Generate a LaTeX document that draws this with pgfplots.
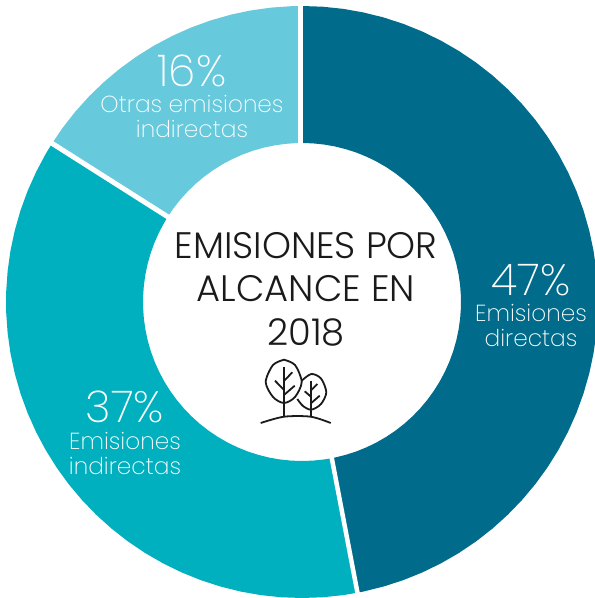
\documentclass[border=0pt]{standalone}
\usepackage{pgfplots}
\pgfplotsset{compat=1.18}
\usepackage{fontspec}
\setmainfont[UprightFont=* Light]{Poppins}
\newfontfamily\thinfont[UprightFont=* ExtraLight]{Poppins}
\definecolor{dark}{HTML}{006B8A}
\definecolor{mid}{HTML}{00B0BF}
\definecolor{light}{HTML}{66C9DC}
\definecolor{ink}{HTML}{1A1A1A}
\begin{document}
\begin{tikzpicture}
\begin{axis}[hide axis, scale only axis, width=595bp, height=598bp,
  xmin=-302, xmax=293, ymin=-296, ymax=302, clip=true,
  every node/.append style={align=center, inner sep=0pt}]
% 47 % : 90 to -79.2 degrees
\addplot[draw=none, fill=dark, data cs=polar] coordinates {
(90,296)(86,296)(82,296)(78,296)(74,296)(70,296)(66,296)(62,296)(58,296)(54,296)(50,296)(46,296)(42,296)(38,296)(34,296)(30,296)(26,296)(22,296)(18,296)(14,296)(10,296)(6,296)(2,296)(-2,296)(-6,296)(-10,296)(-14,296)(-18,296)(-22,296)(-26,296)(-30,296)(-34,296)(-38,296)(-42,296)(-46,296)(-50,296)(-54,296)(-58,296)(-62,296)(-66,296)(-70,296)(-74,296)(-78,296)(-79.2,296)
(-79.2,159)(-78,159)(-74,159)(-70,159)(-66,159)(-62,159)(-58,159)(-54,159)(-50,159)(-46,159)(-42,159)(-38,159)(-34,159)(-30,159)(-26,159)(-22,159)(-18,159)(-14,159)(-10,159)(-6,159)(-2,159)(2,159)(6,159)(10,159)(14,159)(18,159)(22,159)(26,159)(30,159)(34,159)(38,159)(42,159)(46,159)(50,159)(54,159)(58,159)(62,159)(66,159)(70,159)(74,159)(78,159)(82,159)(86,159)(90,159)
};
% 37 % : -79.2 to -212.4 degrees
\addplot[draw=none, fill=mid, data cs=polar] coordinates {
(-79.2,296)(-82,296)(-86,296)(-90,296)(-94,296)(-98,296)(-102,296)(-106,296)(-110,296)(-114,296)(-118,296)(-122,296)(-126,296)(-130,296)(-134,296)(-138,296)(-142,296)(-146,296)(-150,296)(-154,296)(-158,296)(-162,296)(-166,296)(-170,296)(-174,296)(-178,296)(-182,296)(-186,296)(-190,296)(-194,296)(-198,296)(-202,296)(-206,296)(-210,296)(-212.4,296)
(-212.4,159)(-210,159)(-206,159)(-202,159)(-198,159)(-194,159)(-190,159)(-186,159)(-182,159)(-178,159)(-174,159)(-170,159)(-166,159)(-162,159)(-158,159)(-154,159)(-150,159)(-146,159)(-142,159)(-138,159)(-134,159)(-130,159)(-126,159)(-122,159)(-118,159)(-114,159)(-110,159)(-106,159)(-102,159)(-98,159)(-94,159)(-90,159)(-86,159)(-82,159)(-79.2,159)
};
% 16 % : 147.6 to 90 degrees
\addplot[draw=none, fill=light, data cs=polar] coordinates {
(147.6,296)(144,296)(140,296)(136,296)(132,296)(128,296)(124,296)(120,296)(116,296)(112,296)(108,296)(104,296)(100,296)(96,296)(92,296)(90,296)
(90,159)(92,159)(96,159)(100,159)(104,159)(108,159)(112,159)(116,159)(120,159)(124,159)(128,159)(132,159)(136,159)(140,159)(144,159)(147.6,159)
};
% separators
\addplot[white, line width=5bp] coordinates {(-1.2,150)(-1.2,305)};
\addplot[white, line width=4.5bp, data cs=polar] coordinates {(-79.2,150)(-79.2,305)};
\addplot[white, line width=5bp, data cs=polar] coordinates {(147.6,150)(147.6,305)};
% tree icon
\begin{scope}[xshift=-1bp, yshift=1bp]
\addplot[ink, line width=1.8bp, smooth] coordinates {(-16,-59.7)(-5,-65)(1.7,-82)(-5,-97)(-16,-103)(-27,-97)(-34.3,-82)(-27,-65)(-16,-59.7)};
\addplot[ink, line width=1.8bp, smooth] coordinates {(1.7,-80.7)(11.3,-74)(21,-78.5)(26.3,-92.3)(21,-104)(11.3,-109.7)(3,-106)(-2.7,-99)};
\addplot[ink, line width=1.8bp] coordinates {(-16,-67)(-16,-117)};
\addplot[ink, line width=1.8bp] coordinates {(11.3,-80.7)(11.3,-117)};
\addplot[ink, line width=1.8bp] coordinates {(-25,-80.7)(-16,-90)};
\addplot[ink, line width=1.8bp] coordinates {(-7.7,-72.3)(-16,-81)};
\addplot[ink, line width=1.8bp] coordinates {(-5.3,-85.7)(-16,-95)};
\addplot[ink, line width=1.8bp] coordinates {(4.7,-91.3)(11.3,-97)};
\addplot[ink, line width=1.8bp] coordinates {(17.3,-84)(11.3,-90)};
\addplot[ink, line width=1.8bp] coordinates {(19.7,-95.7)(11.3,-103)};
\addplot[ink, line width=1.8bp, smooth] coordinates {(-39.3,-123)(-16,-116.7)(10.7,-116.7)(30.7,-123)};
\end{scope}
% texts (offsets from the ring centre)
\node[text=white, font=\thinfont\fontsize{44}{44}\selectfont] at (axis cs:229,22) {47\%};
\node[text=white, font=\thinfont\fontsize{23.3}{25}\selectfont] at (axis cs:229,-11) {Emisiones};
\node[text=white, font=\thinfont\fontsize{23.3}{25}\selectfont] at (axis cs:229,-36) {directas};
\node[text=white, font=\thinfont\fontsize{44}{44}\selectfont] at (axis cs:-177,-105) {37\%};
\node[text=white, font=\thinfont\fontsize{23.3}{25}\selectfont] at (axis cs:-177,-139) {Emisiones};
\node[text=white, font=\thinfont\fontsize{23.3}{25}\selectfont] at (axis cs:-177,-164) {indirectas};
\node[text=white, font=\thinfont\fontsize{44}{44}\selectfont] at (axis cs:-110,231) {16\%};
\node[text=white, font=\thinfont\fontsize{23.3}{25}\selectfont] at (axis cs:-110,198) {Otras emisiones};
\node[text=white, font=\thinfont\fontsize{23.3}{25}\selectfont] at (axis cs:-110,173) {indirectas};
\node[text=ink, font=\fontsize{37}{36}\selectfont] at (axis cs:4,56) {EMISIONES POR};
\node[text=ink, font=\fontsize{37}{36}\selectfont] at (axis cs:4,13) {ALCANCE EN};
\node[text=ink, font=\fontsize{37}{36}\selectfont] at (axis cs:4,-30) {2018};
\end{axis}
\path[use as bounding box] (current axis.south west) rectangle (current axis.north east);
\end{tikzpicture}
\end{document}
